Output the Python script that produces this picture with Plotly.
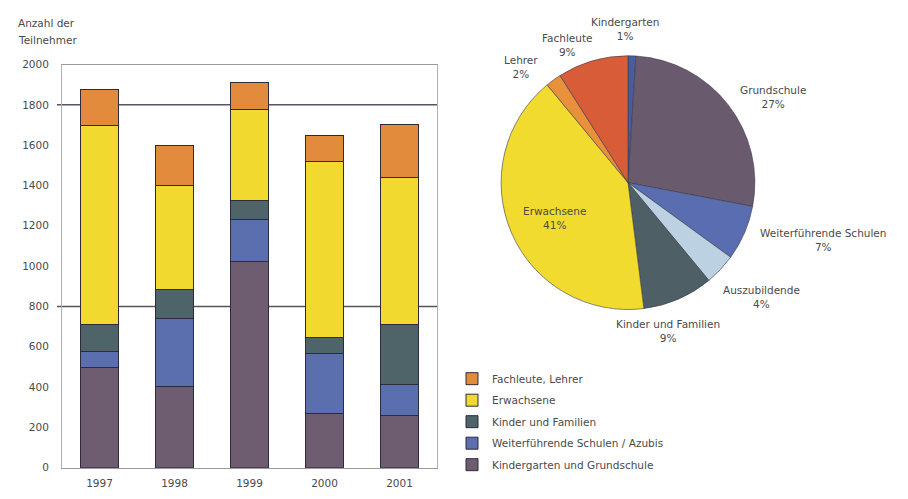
import plotly.graph_objects as go

# ---------------- data ----------------
years = ["1997", "1998", "1999", "2000", "2001"]
kiga_grundschule = [495, 405, 1025, 270, 260]
weiterf_azubis = [80, 337, 205, 295, 150]
kinder_familien = [135, 140, 95, 80, 298]
erwachsene = [990, 518, 450, 875, 732]
fachleute_lehrer = [177, 197, 135, 130, 263]

bar_names = ["Kindergarten und Grundschule", "Weiterführende Schulen / Azubis",
             "Kinder und Familien", "Erwachsene", "Fachleute, Lehrer"]
y_ticks = [0, 200, 400, 600, 800, 1000, 1200, 1400, 1600, 1800, 2000]
ref_lines = [800, 1800]

pie_labels = ["Kindergarten", "Grundschule", "Weiterführende Schulen", "Auszubildende",
              "Kinder und Familien", "Erwachsene", "Lehrer", "Fachleute"]
pie_values = [1, 27, 7, 4, 9, 41, 2, 9]

# ---------------- styles ----------------
FONT = "DejaVu Sans"
TXT = "#4a4a4a"
bar_colors = ["#6e5d70", "#5b6eae", "#4e6468", "#f2d930", "#e38b3c"]
pie_colors = ["#4a5c9e", "#6a5a6e", "#5a6db0", "#bcd2e2", "#4f5f66",
              "#f1db2e", "#e8913a", "#d85c38"]

W, H = 908, 499
def px(x): return x / W
def py(y): return (H - y) / H

fig = go.Figure()
series = [kiga_grundschule, weiterf_azubis, kinder_familien, erwachsene, fachleute_lehrer]
n = len(series)
for i, (name, vals, col) in enumerate(zip(bar_names, series, bar_colors)):
    fig.add_trace(go.Bar(
        x=years, y=vals, name=name, legendgroup=name, legendrank=n - i,
        marker=dict(color=col, line=dict(color="#2e2a3a", width=1)),
        xaxis="x", yaxis="y",
    ))

fig.add_trace(go.Pie(
    labels=pie_labels, values=pie_values, sort=False, direction="clockwise",
    rotation=0, textinfo="none", showlegend=False, hoverinfo="label+percent",
    marker=dict(colors=pie_colors, line=dict(color="#3a3a4a", width=0.6)),
    domain=dict(x=[px(498), px(758)], y=[py(311), py(51)]),
))

for v in ref_lines:
    fig.add_shape(type="line", xref="paper", yref="y", x0=px(57), x1=px(437),
                  y0=v, y1=v, line=dict(color="#555560", width=1.5), layer="below")

# pie labels
pie_label_pos = {
    "Kindergarten": (625, 24),
    "Grundschule": (773, 93),
    "Weiterführende Schulen": (823, 240),
    "Auszubildende": (761, 298),
    "Kinder und Familien": (668, 333),
    "Erwachsene": (554, 217),
    "Lehrer": (521, 63),
    "Fachleute": (567, 40),
}
for lab, val in zip(pie_labels, pie_values):
    x, y = pie_label_pos[lab]
    fig.add_annotation(x=px(x), y=py(y), xref="paper", yref="paper",
                       text=f"{lab}<br>{val}%", showarrow=False,
                       font=dict(family=FONT, size=10.5, color=TXT),
                       xanchor="center", yanchor="middle", align="center")

# y axis title
for txt, y in [("Anzahl der", 17), ("Teilnehmer", 35)]:
    fig.add_annotation(x=px(16), y=py(y), xref="paper", yref="paper", text=txt,
                       showarrow=False, xanchor="left", yanchor="middle",
                       font=dict(family=FONT, size=10.5, color=TXT))

fig.update_layout(
    width=W, height=H,
    margin=dict(l=0, r=0, t=0, b=0),
    paper_bgcolor="white", plot_bgcolor="white",
    barmode="stack", bargap=0.49,
    font=dict(family=FONT, size=10.5, color=TXT),
    xaxis=dict(domain=[px(62), px(437)], showgrid=False, showline=True,
               linecolor="#9a9a9a", linewidth=1, mirror=True, ticks="",
               tickfont=dict(size=10.5, color=TXT), ticklabelstandoff=6),
    yaxis=dict(domain=[py(473), py(60)], range=[0, 2000], tickvals=y_ticks,
               showgrid=False, showline=True, linecolor="#b0b0b0", linewidth=1,
               mirror=True, ticks="", zeroline=False,
               tickfont=dict(size=10.5, color=TXT), ticklabelstandoff=10),
    legend=dict(x=px(452), y=py(367), xanchor="left", yanchor="top",
                traceorder="grouped", font=dict(family=FONT, size=10.5, color=TXT),
                itemwidth=30, tracegroupgap=2.5, bgcolor="rgba(0,0,0,0)"),
    showlegend=True,
)

fig.write_html("out.html")
